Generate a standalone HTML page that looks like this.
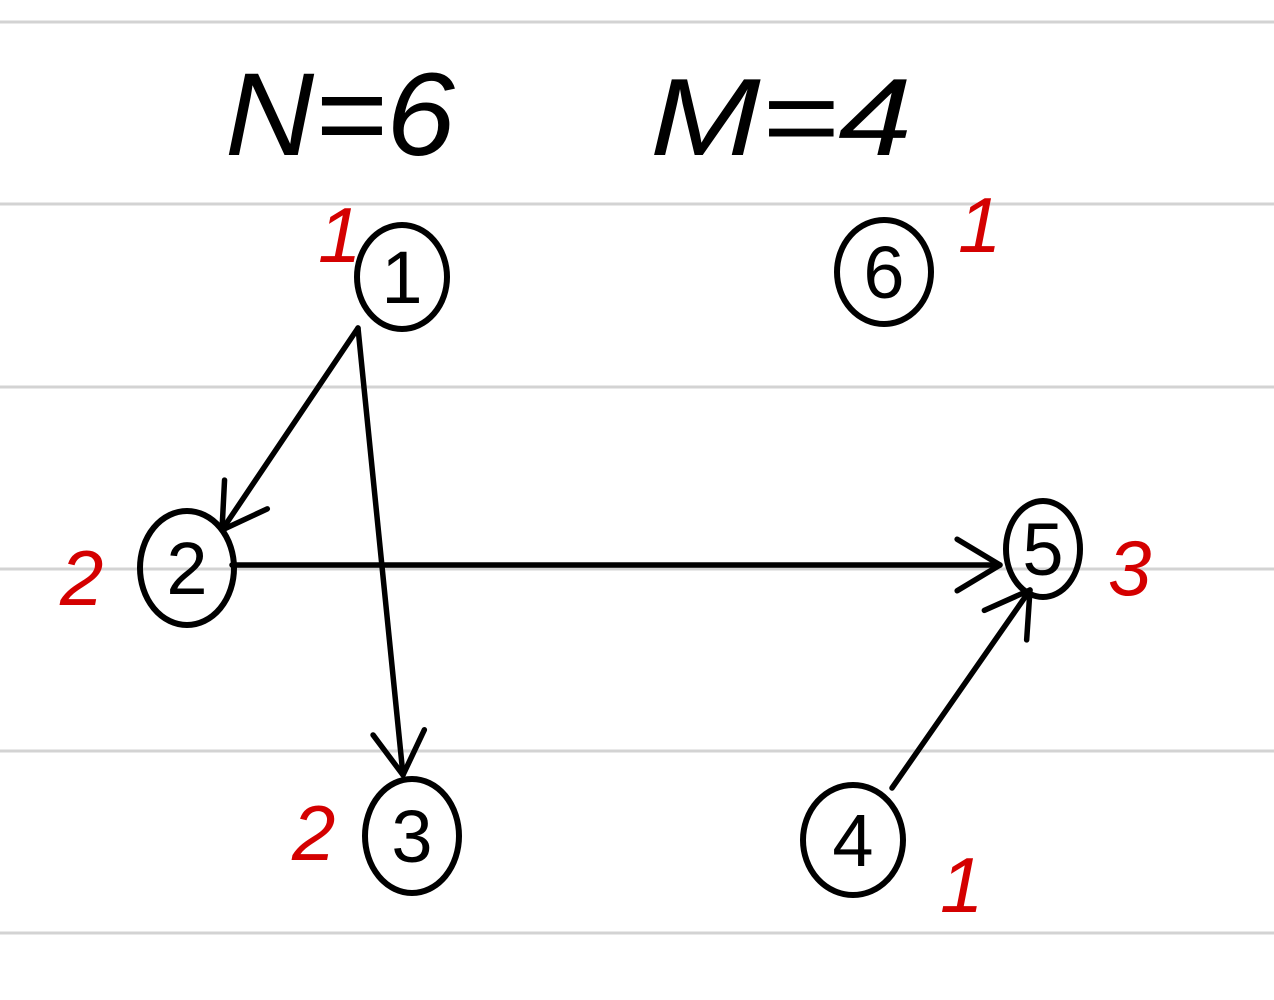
<!DOCTYPE html>
<html><head><meta charset="utf-8"><style>
html,body{margin:0;padding:0;background:#fff;}
svg{display:block;}
text{font-family:"Liberation Sans",sans-serif;}
</style></head><body>
<svg id="g" width="1274" height="1000" viewBox="0 0 1274 1000">
<g id="rules"></g>
<text x="225" y="155" font-size="118" fill="#000" font-style="italic" textLength="230" lengthAdjust="spacingAndGlyphs">N=6</text>
<text x="650" y="155" font-size="110" fill="#000" font-style="italic" textLength="262" lengthAdjust="spacingAndGlyphs">M=4</text>
<g id="edges"></g>
<g id="nodes"></g>
<g id="degs"></g>
</svg>
<script>
const ruleYs = [22, 204, 387, 569, 751, 933];
const nodeIds = ['1','2','3','4','5','6'];
const nodeX = [402, 187, 412, 853, 1043, 884];
const nodeY = [277, 568, 836, 840, 549, 272];
const nodeRx = [45, 47, 47, 50, 37, 47];
const nodeRy = [52, 57, 57, 55, 48, 52];
const edgeFrom = ['1','1','2','4'];
const edgeTo = ['2','3','5','5'];
const edgeStart = [[358,328],[358,328],[232,565],[892,788]];
const edgeEnd = [[222,530],[403,775],[1000,565],[1030,590]];
const degLabels = ['1','2','2','1','3','1'];
const degPos = [[318,262],[60,605],[292,860],[940,912],[1108,595],[958,252]];
const NS='http://www.w3.org/2000/svg';
function mk(t,a,p){const e=document.createElementNS(NS,t);for(const k in a)e.setAttribute(k,a[k]);p.appendChild(e);return e;}
const rules=document.getElementById('rules');
ruleYs.forEach(y=>{const l=mk('line',{x1:0,x2:1274,y1:y,y2:y,stroke:'#d3d3d3','stroke-width':3},rules);

});
const eg=document.getElementById('edges');
edgeFrom.forEach((f,i)=>{
 const [x1,y1]=edgeStart[i],[x2,y2]=edgeEnd[i];
 const l=mk('line',{x1,y1,x2,y2,stroke:'#000','stroke-width':5.5,'stroke-linecap':'round'},eg);
 
 
 const a=Math.atan2(y2-y1,x2-x1),L=50;
 const p=[a+2.6,a-2.6].map(b=>[x2+L*Math.cos(b),y2+L*Math.sin(b)]);
 const h=mk('path',{d:`M${p[0][0]},${p[0][1]} L${x2},${y2} L${p[1][0]},${p[1][1]}`,fill:'none',stroke:'#000','stroke-width':5.5,'stroke-linecap':'round','stroke-linejoin':'round'},eg);
 
 
});
const ng=document.getElementById('nodes');
nodeIds.forEach((id,i)=>{
 const g=mk('g',{},ng);
 
 
 mk('ellipse',{cx:nodeX[i],cy:nodeY[i],rx:nodeRx[i],ry:nodeRy[i],fill:'none',stroke:'#000','stroke-width':6},g);
 const t=mk('text',{x:nodeX[i],y:nodeY[i]+26,'font-size':74,'text-anchor':'middle',fill:'#000'},g);
 t.textContent=id;
});
const dg=document.getElementById('degs');
degLabels.forEach((d,i)=>{
 const t=mk('text',{x:degPos[i][0],y:degPos[i][1],'font-size':78,fill:'#d40000','font-style':'italic'},dg);
 
 
 t.textContent=d;
});
</script>
</body></html>
